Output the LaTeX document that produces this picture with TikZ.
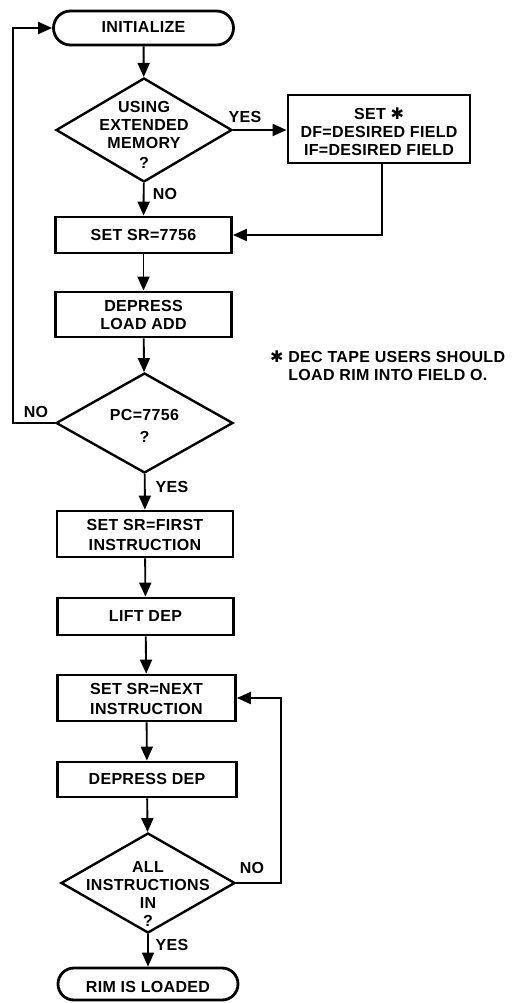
\documentclass[tikz,border=0pt]{standalone}
\usepackage{fontspec}
\setmainfont{Liberation Sans}[LetterSpace=2]
\newfontfamily\dvs{DejaVu Sans}
\usetikzlibrary{shapes.geometric,shapes.misc,arrows.meta}
\newcommand{\zt}[2][2]{\raisebox{\dimexpr-#1pt-4pt\relax}[0pt][0pt]{\makebox[0pt]{\begin{tabular}{@{}c@{}}#2\end{tabular}}}}
\newcommand{\hast}{{\dvs ✱}}
\begin{document}
\begin{tikzpicture}[x=1pt,y=-1pt,
  every node/.style={font=\fontsize{16}{18}\selectfont\bfseries, inner sep=0pt},
  box/.style={draw, line width=2.8pt, rectangle},
  term/.style={draw, line width=2.8pt, rounded rectangle},
  dec/.style={draw, line width=2.4pt, diamond},
  conn/.style={line width=1.9pt},
  arr/.style={conn, -{Triangle[length=14pt,width=12pt]}}]
\fill[white] (0,0) rectangle (513,1003);
\useasboundingbox (0,0) rectangle (513,1003);

\node[term, minimum width=180pt, minimum height=34pt] (init) at (143.5,28) {\zt[1]{INITIALIZE}};
\node[dec, minimum width=176pt, minimum height=104pt] (d1) at (144,130) {\zt[7]{USING\\EXTENDED\\MEMORY\\[2pt]?}};
\node[box, minimum width=182pt, minimum height=68pt] (setb) at (379,129) {\zt[5.5]{SET \hast\\DF=DESIRED FIELD\\IF=DESIRED FIELD}};
\node[box, minimum width=176pt, minimum height=36pt] (setsr) at (143.5,235) {\zt{SET SR=7756}};
\node[box, minimum width=176pt, minimum height=45pt] (lad) at (143.5,314.5) {\zt[2.5]{DEPRESS\\LOAD ADD}};
\node[dec, minimum width=177pt, minimum height=100pt] (d2) at (144.5,423) {\zt[5.5]{PC=7756\\[4pt]?}};
\node[box, minimum width=176pt, minimum height=46pt] (first) at (145,534) {\zt[3]{SET SR=FIRST\\[2pt]INSTRUCTION}};
\node[box, minimum width=176pt, minimum height=37pt] (lift) at (145.5,616.5) {\zt{LIFT DEP}};
\node[box, minimum width=178pt, minimum height=46pt] (next) at (146.5,698) {\zt[3]{SET SR=NEXT\\[2pt]INSTRUCTION}};
\node[box, minimum width=179pt, minimum height=35pt] (dd) at (147,779.5) {\zt{DEPRESS DEP}};
\node[dec, minimum width=174pt, minimum height=100pt] (d3) at (148,883) {\zt[13]{ALL\\INSTRUCTIONS\\IN\\?}};
\node[term, minimum width=180pt, minimum height=32pt] (rim) at (148,984) {\zt[5]{RIM IS LOADED}};

\node (yes1) at (245,117) {YES};
\node (no1) at (165,194) {NO};
\node (no2) at (36,412) {NO};
\node (yes2) at (172,487) {YES};
\node (no3) at (252,868) {NO};
\node (yes3) at (172,945) {YES};

\node[anchor=west, align=left] (note) at (270,366) {\hast\ DEC TAPE USERS SHOULD\\\hphantom{\hast\ }LOAD RIM INTO FIELD O.};

\coordinate (lp) at (13,423);
\coordinate (rp) at (281,883);

\draw[arr] (init) -- (d1);
\draw[arr] (d1.east) -- (d1.east -| setb.west);
\draw[arr] ([xshift=3pt]setb.south) |- (setsr.east);
\draw[arr] (d1) -- (setsr);
\draw[arr] (setsr) -- (lad);
\draw[arr] (lad) -- (d2);
\draw[arr] (d2) -- (first);
\draw[arr] (first) -- (lift);
\draw[arr] (lift) -- (next);
\draw[arr] (next) -- (dd);
\draw[arr] (dd) -- (d3);
\draw[arr] (d3) -- (rim);
\draw[arr] (d2.west) -- (lp) |- (init.west);
\draw[arr] (d3.east) -- (rp) |- (next.east);
\end{tikzpicture}
\end{document}
